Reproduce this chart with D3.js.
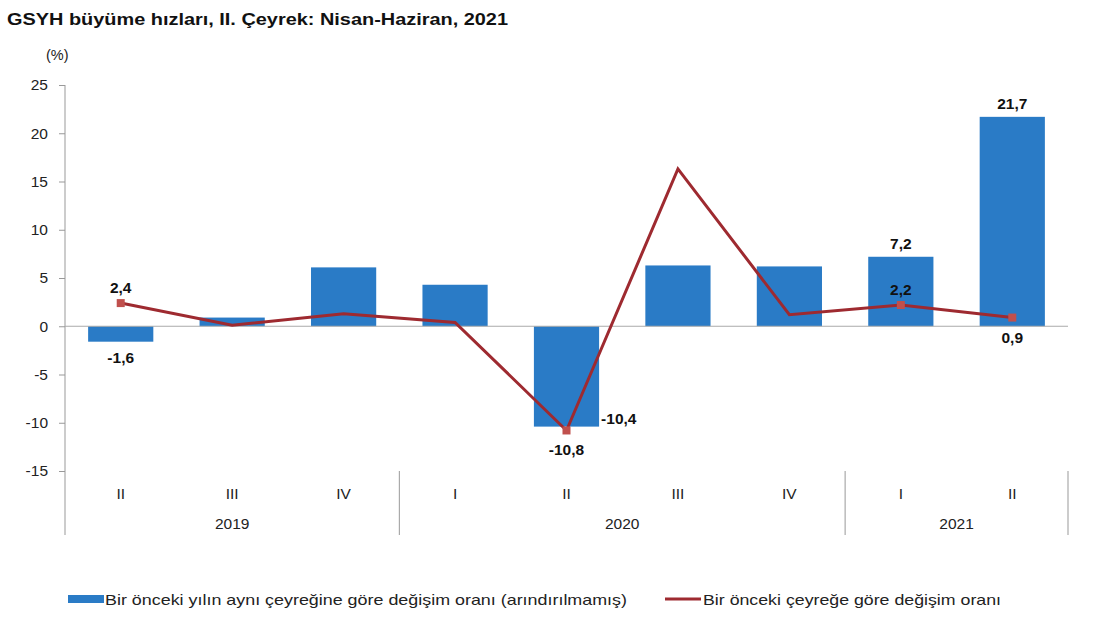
<!DOCTYPE html>
<html><head><meta charset="utf-8">
<script src="https://cdn.jsdelivr.net/npm/d3@7"></script>
<style>body{margin:0;background:#fff}svg{display:block}text{font-family:"Liberation Sans",Arial,sans-serif}</style>
</head><body><svg id="c" width="1095" height="624"></svg>
<script>
const quarters = ["II","III","IV","I","II","III","IV","I","II"];
const years = [{label:"2019",start:0,end:3},{label:"2020",start:3,end:7},{label:"2021",start:7,end:9}];
const yoy = [-1.6,0.9,6.1,4.3,-10.4,6.3,6.2,7.2,21.7];
const qoq = [2.4,0.1,1.3,0.4,-10.8,16.3,1.2,2.2,0.9];
const yTicks = [25,20,15,10,5,0,-5,-10,-15];
const barLabels = [{i:0,pos:"below"},{i:4,pos:"right"},{i:7,pos:"above"},{i:8,pos:"above"}];
const lineLabels = [{i:0,pos:"above"},{i:4,pos:"below"},{i:7,pos:"above"},{i:8,pos:"below"}];
const fmt = v => String(v).replace(".",",");

const svg = d3.select("#c");
const L=65, R=1068, T=85, B=471;
const x = d3.scaleBand().domain(d3.range(quarters.length)).range([L,R]).paddingInner(0.415).paddingOuter(0.2075);
const y = d3.scaleLinear().domain([-15,25]).range([B,T]);
const cx = i => x(i)+x.bandwidth()/2;
const blue="#2a7bc6", red="#9e2a30", mark="#c0504d";
const axisFont = 15.5;

svg.append("text").attr("x",7).attr("y",25).attr("font-size",16.5).attr("font-weight","bold").attr("fill","#111")
  .attr("textLength",501).attr("lengthAdjust","spacingAndGlyphs")
  .text("GSYH büyüme hızları, II. Çeyrek: Nisan-Haziran, 2021");
svg.append("text").attr("x",46).attr("y",60).attr("font-size",14.5).attr("fill","#222").text("(%)");

// y axis
const ya = svg.append("g").attr("transform",`translate(${L},0)`)
  .call(d3.axisLeft(y).tickValues(yTicks).tickSize(6).tickPadding(11).tickFormat(d=>d));
ya.select(".domain").remove();
ya.selectAll("line").attr("stroke","#999");
ya.selectAll("text").attr("font-size",axisFont).attr("fill","#222").attr("font-family","'Liberation Sans',Arial,sans-serif");
svg.append("line").attr("x1",L).attr("x2",L).attr("y1",T).attr("y2",535).attr("stroke","#999");

// bars
svg.append("g").selectAll("rect").data(yoy).join("rect")
  .attr("x",(d,i)=>x(i)).attr("width",x.bandwidth())
  .attr("y",d=>y(Math.max(0,d))).attr("height",d=>Math.abs(y(d)-y(0)))
  .attr("fill",blue);

// zero line
svg.append("line").attr("x1",L).attr("x2",R).attr("y1",y(0)).attr("y2",y(0)).attr("stroke","#aaa").attr("stroke-width",1.2);

// category axis
const step = x.step();
years.forEach(yr=>{
  svg.append("line").attr("x1",L+step*yr.end).attr("x2",L+step*yr.end).attr("y1",B).attr("y2",535).attr("stroke","#999");
  svg.append("text").attr("x",L+step*(yr.start+yr.end)/2).attr("y",529).attr("text-anchor","middle")
    .attr("font-size",axisFont).attr("fill","#222").text(yr.label);
});
svg.append("g").selectAll("text").data(quarters).join("text")
  .attr("x",(d,i)=>cx(i)).attr("y",499).attr("text-anchor","middle").attr("font-size",axisFont).attr("fill","#222")
  .text(d=>d);

// line
const line = d3.line().x((d,i)=>cx(i)).y(d=>y(d));
svg.append("path").datum(qoq).attr("d",line).attr("fill","none").attr("stroke",red).attr("stroke-width",3).attr("stroke-linejoin","miter");
svg.append("g").selectAll("rect").data(lineLabels).join("rect")
  .attr("x",d=>cx(d.i)-4).attr("y",d=>y(qoq[d.i])-4).attr("width",8).attr("height",8).attr("fill",mark);

// labels
const lbl = svg.append("g").attr("font-size",15.5).attr("font-weight","bold").attr("fill","#111");
barLabels.forEach(b=>{
  const v=yoy[b.i]; let tx=cx(b.i), ty, anchor="middle";
  if(b.pos==="above") ty=y(v)-8;
  else if(b.pos==="below") ty=y(v)+21;
  else {tx=x(b.i)+x.bandwidth()+2; ty=y(v)-3; anchor="start";}
  lbl.append("text").attr("x",tx).attr("y",ty).attr("text-anchor",anchor).text(fmt(v));
});
lineLabels.forEach(b=>{
  const v=qoq[b.i]; const ty = b.pos==="above"? y(v)-10 : y(v)+25;
  lbl.append("text").attr("x",cx(b.i)).attr("y",ty).attr("text-anchor","middle").text(fmt(v));
});

// legend
const lg = svg.append("g").attr("font-size",15).attr("fill","#222");
lg.append("rect").attr("x",68).attr("y",595).attr("width",36).attr("height",8).attr("fill",blue);
lg.append("text").attr("x",105).attr("y",605).attr("textLength",522).attr("lengthAdjust","spacingAndGlyphs")
  .text("Bir önceki yılın aynı çeyreğine göre değişim oranı (arındırılmamış)");
lg.append("line").attr("x1",665).attr("x2",701).attr("y1",599).attr("y2",599).attr("stroke",red).attr("stroke-width",3);
lg.append("text").attr("x",703).attr("y",605).attr("textLength",298).attr("lengthAdjust","spacingAndGlyphs")
  .text("Bir önceki çeyreğe göre değişim oranı");
</script></body></html>
